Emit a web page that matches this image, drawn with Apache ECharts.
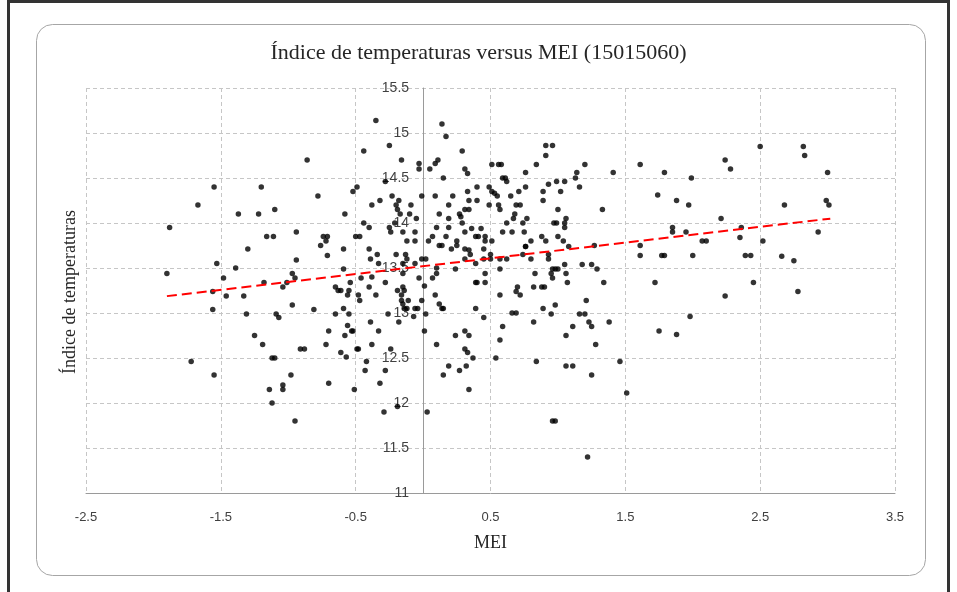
<!DOCTYPE html>
<html>
<head>
<meta charset="utf-8">
<script src="https://cdn.jsdelivr.net/npm/echarts@6/dist/echarts.min.js"></script>
<style>
  html, body { margin: 0; padding: 0; background: #fff; }
  #chart { width: 957px; height: 592px; }
</style>
</head>
<body>
<div id="chart"></div>
<script>
// MEI values (x) and temperature index (y)
const mei = [
  -0.86, -1.55, -1.20, -0.78, -1.67, -1.37, -1.22, -1.10, -1.88, -1.16, -1.11, -0.94, -0.74, -0.71, -0.72, -0.76, -1.30,
  -0.71, -0.94, -1.90, -1.53, -1.39, -1.48, -0.97, -0.95, -1.01, -1.04, -1.18, -1.56, -1.46, -1.33, -0.97, -0.81, -1.56,
  -1.31, -1.09, -1.07, -0.70, -1.25, -1.19, -0.72, -0.91, -0.88, -1.12, -1.10, -1.72, -1.55, -0.98, -1.04, -0.70,
  -1.14, -1.04, -1.12, -0.95,
  -0.35, 0.14, 0.17, -0.25, -0.44, 0.29, -0.16, 0.11, -0.03, -0.03, 0.09, 0.05, 0.31, 0.33, 0.15, -0.28, -0.49, -0.52,
  -0.01, 0.09, 0.22, -0.23, -0.32, -0.18, -0.38, -0.20, -0.09, 0.19, 0.33, -0.19, -0.17, -0.58, -0.10, 0.12, 0.27, 0.28,
  0.31, 0.34, -0.05, 0.19, 0.29, -0.44, -0.40, -0.25, -0.24, -0.21, -0.15, -0.06, 0.10, 0.19, 0.07, 0.04, -0.06, -0.12,
  0.17, 0.25, 0.31, -0.50, -0.47, -0.59, -0.40, 0.12, 0.14, 0.21, 0.31,
  -0.34, -0.39, -0.33, -0.20, -0.13, -0.12, -0.15, -0.06, -0.01, 0.02, 0.25, 0.31, 0.24, 0.10, 0.07, 0.10, -0.38, -0.28,
  -0.15, -0.03, -0.59, -0.54, -0.46, -0.65, -0.63, -0.61, -0.55, -0.56, -0.48, -0.47, -0.40, -0.35, -0.19, -0.15, -0.14,
  -0.16, -0.16, -0.11, -0.15, -0.14, -0.12, -0.06, -0.04, -0.01, 0.01, 0.09, 0.12, 0.14, 0.15, 0.02, -0.07, -0.18, -0.26,
  -0.39, -0.65, -0.55, -0.59, -0.56, -0.53, -0.52, -0.58, -0.33, 0.01, 0.24, 0.31, 0.34, -0.38, -0.49, -0.48, -0.61,
  -0.57, -0.24, 0.10, 0.31, 0.33, -0.42, -0.43, -0.28, 0.19, 0.15, 0.27, -0.32,
  -0.51, -0.29, -0.19, 0.03, 0.34,
  0.91, 0.96, 0.91, 0.51, 0.56, 0.58, 0.84, 1.20, 1.41, 0.76, 1.14, 1.13, 0.59, 0.61, 0.62, 0.99, 1.05, 0.93, 0.76, 1.16,
  1.02, 0.89, 0.71, 0.40, 0.49, 0.51, 0.53, 0.55, 0.65, 0.34, 0.40, 0.89, 0.49, 0.56, 0.57, 0.69, 0.72, 1.00, 1.33, 0.68,
  0.67, 0.77, 1.06, 0.62, 0.74, 0.97, 0.99, 1.05, 1.05, 0.36, 0.43, 0.59, 0.66, 0.75, 0.39, 0.41, 0.46, 0.46, 0.51, 0.88,
  1.00, 0.91, 1.04, 0.80, 1.08, 0.76, 0.45, 1.27,
  0.34, 0.35, 0.50, 0.45, 0.50, 0.39, 0.57, 0.62, 0.74, 0.76, 0.80, 0.93, 0.93, 0.57, 0.83, 0.95, 0.96, 0.98, 1.00, 0.96,
  1.05, 1.06, 1.18, 1.25, 1.29, 1.07, 1.34, 0.46, 0.39, 0.40, 0.46, 0.82, 0.88, 0.90, 0.70, 0.69, 0.72, 0.57, 1.21, 0.98,
  0.89, 0.39, 0.66, 0.69, 0.95, 1.16, 1.20, 0.45, 0.82, 1.23, 1.38, 1.11, 1.25, 0.59, 1.06, 0.57, 1.28, 0.37, 0.54, 0.84,
  1.06, 1.11, 1.25, 0.32, 1.46,
  0.96, 0.98, 1.22, 1.51,
  1.61, 1.79, 1.99, 1.74, 1.88, 1.97, 2.24, 2.28, 2.50, 2.82, 2.83, 3.00, 2.99, 3.01, 2.68, 2.21, 1.85, 1.85, 1.95, 2.36,
  2.35, 2.07, 2.10, 1.61, 2.52, 2.93,
  1.61, 1.77, 1.79, 2.00, 2.39, 2.43, 2.66, 2.75, 1.72, 2.45, 2.78, 2.24, 1.98, 1.75, 1.88
];
const tempIndex = [
  14.70, 14.40, 14.40, 14.30, 14.20, 14.10, 14.10, 14.15, 13.95, 13.85, 13.85, 13.90, 13.85, 13.85, 13.80, 13.75, 13.71,
  13.64, 13.59, 13.44, 13.55, 13.50, 13.39, 13.44, 13.39, 13.34, 13.29, 13.34, 13.24, 13.19, 13.19, 13.09, 13.04, 13.04,
  12.99, 12.99, 12.95, 12.80, 12.75, 12.65, 12.65, 12.60, 12.60, 12.50, 12.50, 12.46, 12.31, 12.31, 12.20, 12.22,
  12.15, 12.15, 12.00, 11.80,
  15.14, 15.10, 14.96, 14.86, 14.80, 14.80, 14.70, 14.70, 14.66, 14.60, 14.66, 14.60, 14.60, 14.55, 14.50, 14.46, 14.40, 14.35,
  14.30, 14.30, 14.30, 14.30, 14.25, 14.25, 14.20, 14.20, 14.20, 14.20, 14.35, 14.15, 14.10, 14.10, 14.10, 14.10, 14.10, 14.07,
  14.15, 14.15, 14.05, 14.05, 14.00, 14.00, 13.95, 13.95, 13.90, 14.00, 13.90, 13.90, 13.95, 13.95, 13.85, 13.80, 13.80, 13.80,
  13.85, 13.80, 13.90, 13.85, 13.85, 13.71, 13.71, 13.75, 13.75, 13.71, 13.71,
  13.65, 13.60, 13.55, 13.65, 13.65, 13.60, 13.55, 13.55, 13.60, 13.60, 13.75, 13.60, 13.49, 13.50, 13.39, 13.44, 13.40, 13.34,
  13.44, 13.39, 13.49, 13.34, 13.39, 13.29, 13.25, 13.25, 13.25, 13.20, 13.20, 13.14, 13.29, 13.20, 13.25, 13.29, 13.25,
  13.20, 13.14, 13.14, 13.10, 13.05, 13.05, 13.05, 13.05, 13.14, 13.30, 13.20, 13.10, 13.05, 13.05, 12.99, 12.96, 12.90, 12.99,
  12.90, 12.99, 12.99, 13.05, 12.86, 12.80, 12.80, 12.75, 12.80, 12.80, 12.75, 12.80, 12.75, 12.65, 12.60, 12.60, 12.56,
  12.51, 12.60, 12.65, 12.60, 12.56, 12.46, 12.36, 12.36, 12.41, 12.31, 12.36, 12.22,
  12.15, 11.90, 11.96, 11.90, 12.15,
  14.86, 14.86, 14.75, 14.65, 14.65, 14.65, 14.65, 14.65, 14.56, 14.56, 14.56, 14.50, 14.50, 14.50, 14.46, 14.46, 14.46, 14.43, 14.40, 14.40,
  14.35, 14.35, 14.35, 14.40, 14.40, 14.35, 14.33, 14.30, 14.30, 14.25, 14.25, 14.25, 14.20, 14.20, 14.15, 14.20, 14.20, 14.15, 14.15, 14.10,
  14.05, 14.05, 14.05, 14.00, 14.00, 14.00, 14.00, 14.00, 13.95, 13.94, 13.94, 13.90, 13.90, 13.90, 13.85, 13.85, 13.85, 13.80, 13.80, 13.85,
  13.85, 13.80, 13.80, 13.80, 13.74, 13.74, 13.71, 13.75,
  13.70, 13.65, 13.65, 13.60, 13.60, 13.55, 13.60, 13.60, 13.65, 13.74, 13.60, 13.65, 13.60, 13.49, 13.44, 13.44, 13.49, 13.49, 13.49, 13.39,
  13.54, 13.44, 13.54, 13.54, 13.49, 13.34, 13.34, 13.44, 13.34, 13.34, 13.34, 13.29, 13.29, 13.29, 13.29, 13.24, 13.20, 13.20, 13.14, 13.09,
  13.05, 13.05, 13.00, 13.00, 12.99, 12.99, 12.99, 12.95, 12.90, 12.90, 12.90, 12.85, 12.85, 12.85, 12.75, 12.70, 12.65, 12.50, 12.50, 12.46,
  12.41, 12.41, 12.31, 12.41, 12.46,
  11.80, 11.80, 11.40, 12.11,
  14.65, 14.56, 14.50, 14.31, 14.25, 14.20, 14.70, 14.60, 14.85, 14.85, 14.75, 14.56, 14.25, 14.20, 14.20, 14.05, 13.95, 13.90, 13.90, 13.95,
  13.84, 13.80, 13.80, 13.75, 13.80, 13.90,
  13.64, 13.64, 13.64, 13.64, 13.64, 13.64, 13.63, 13.58, 13.34, 13.34, 13.24, 13.19, 12.96, 12.80, 12.76
];

// linear trend
const trendX = [-1.9, 3.02];
const trendSlope = 0.175;
const trendIntercept = 13.52;

const xMin = -2.5, xMax = 3.5;
const xTickLabels = ['-2.5', '-1.5', '-0.5', '0.5', '1.5', '2.5', '3.5'];

var chartDom = document.getElementById('chart');
var myChart = echarts.init(chartDom);

var points = mei.map((x, i) => [x, tempIndex[i]]);
var trend = trendX.map(x => [x, trendIntercept + trendSlope * x]);

// plot box
var gridLeft = 86, gridRight = 62;
var plotWidth = 957 - gridLeft - gridRight;
// move the y axis (with its labels) to MEI = 0
var yOffset = -plotWidth * (0 - xMin) / (xMax - xMin);

var gridColor = '#c6c6c6';
var option = {
  animation: false,
  backgroundColor: '#fff',
  title: {
    text: 'Índice de temperaturas versus MEI (15015060)',
    left: 'center',
    top: 37,
    textStyle: { fontFamily: 'Liberation Serif', fontSize: 22, fontWeight: 'normal', color: '#262626' }
  },
  graphic: [
    {
      type: 'rect', z: -10, silent: true,
      shape: { x: 8.5, y: 1.5, width: 940, height: 620 },
      style: { fill: 'none', stroke: '#333', lineWidth: 3 }
    },
    {
      type: 'rect', z: -10, silent: true,
      shape: { x: 36.5, y: 24.5, width: 889, height: 551, r: 16 },
      style: { fill: '#fff', stroke: '#a6a6a6', lineWidth: 1 }
    },
    {
      type: 'text', silent: true,
      x: 70, y: 292, rotation: Math.PI / 2,
      style: {
        text: 'Índice de temperaturas',
        font: '18px "Liberation Serif"',
        fill: '#262626',
        align: 'center', verticalAlign: 'middle',
        textAlign: 'center', textVerticalAlign: 'middle'
      }
    }
  ],
  grid: { left: gridLeft, right: gridRight, top: 88, bottom: 99 },
  xAxis: [
    {
      type: 'value', min: xMin, max: xMax, show: false
    },
    {
      type: 'value', min: 0, max: 6, interval: 1, position: 'bottom',
      name: 'MEI', nameLocation: 'middle', nameGap: 41,
      nameTextStyle: { fontFamily: 'Liberation Serif', fontSize: 18, color: '#262626' },
      axisLine: { show: true, onZero: false, lineStyle: { color: '#9a9a9a' } },
      axisTick: { show: false },
      axisLabel: {
        margin: 18, fontFamily: 'Liberation Sans', fontSize: 13, color: '#404040',
        formatter: v => xTickLabels[Math.round(v)]
      },
      splitLine: { show: true, lineStyle: { color: gridColor, type: [4, 3] } }
    }
  ],
  yAxis: {
    type: 'value', min: 11, max: 15.5, interval: 0.5,
    position: 'left', offset: yOffset,
    axisLine: { show: true, onZero: false, lineStyle: { color: '#9a9a9a' } },
    axisTick: { show: false },
    axisLabel: { margin: 14, fontFamily: 'Liberation Sans', fontSize: 14, color: '#404040' },
    splitLine: { show: true, lineStyle: { color: gridColor, type: [4, 3] } }
  },
  series: [
    {
      type: 'scatter', xAxisIndex: 0, yAxisIndex: 0,
      data: points,
      symbol: 'circle', symbolSize: 5.5,
      itemStyle: { color: '#000' }
    },
    {
      type: 'line', xAxisIndex: 0, yAxisIndex: 0,
      data: trend,
      showSymbol: false, symbol: 'none', z: 3,
      lineStyle: { color: '#ff0000', width: 2, type: [10, 5] }
    }
  ]
};

option && myChart.setOption(option);
</script>
</body>
</html>
